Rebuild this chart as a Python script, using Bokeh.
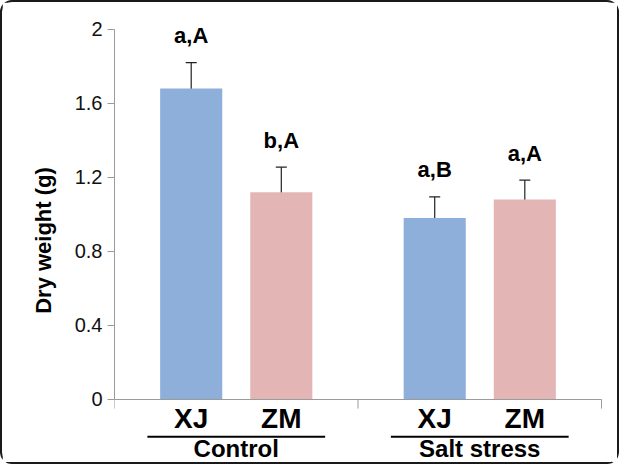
from bokeh.plotting import figure
from bokeh.models import Range1d, FixedTicker, ColumnDataSource, Whisker, TeeHead
from bokeh.core.properties import value
from bokeh.embed import file_html
from bokeh.resources import INLINE

# ---- data ----
groups = ["Control", "Salt stress"]
cultivars = ["XJ", "ZM"]
means = [1.68, 1.12, 0.98, 1.08]
errors = [0.14, 0.135, 0.115, 0.105]
letters = ["a,A", "b,A", "a,B", "a,A"]
y_ticks = [0.0, 0.4, 0.8, 1.2, 1.6, 2.0]
y_tick_labels = ["0", "0.4", "0.8", "1.2", "1.6", "2"]

# ---- styling / layout ----
colors = ["#8DAFDA", "#E4B5B5"]
FONT = value("Liberation Sans")
group_span = 2.0
offset = 0.37
bar_w = 0.51
label_gap = 0.145

xs, cols, names = [], [], []
for gi, g in enumerate(groups):
    c = gi * group_span + group_span / 2
    for ci, cv in enumerate(cultivars):
        xs.append(c + (ci - 0.5) * 2 * offset)
        cols.append(colors[ci])
        names.append(cv)

upper = [m + e for m, e in zip(means, errors)]
lower = [m - e for m, e in zip(means, errors)]
src = ColumnDataSource(dict(x=xs, top=means, upper=upper, lower=lower,
                            color=cols, letter=letters, name=names,
                            label_y=[u + label_gap for u in upper]))

p = figure(width=619, height=464, output_backend="svg", toolbar_location=None,
           x_range=Range1d(0, 4.082), y_range=Range1d(-0.362, 2.08),
           x_axis_location=None, min_border_left=112, min_border_right=10,
           min_border_top=12, min_border_bottom=0)
p.outline_line_color = None
p.grid.visible = False
p.styles = {"border": "2px solid #1a1a1a", "border-radius": "12px",
            "box-sizing": "border-box"}

ax = p.yaxis[0]
ax.bounds = (0, 2)
ax.ticker = FixedTicker(ticks=y_ticks)
ax.major_label_overrides = {t: l for t, l in zip(y_ticks, y_tick_labels)}
ax.minor_tick_line_color = None
ax.major_tick_in = 0
ax.major_tick_out = 7
ax.axis_line_color = "#9a9a9a"
ax.major_tick_line_color = "#9a9a9a"
ax.major_label_text_font = "Liberation Sans"
ax.major_label_text_font_size = "20px"
ax.major_label_text_color = "#111111"
ax.major_label_standoff = 5
ax.axis_label = "Dry weight (g)"
ax.axis_label_text_font = "Liberation Sans"
ax.axis_label_text_font_style = "bold"
ax.axis_label_text_font_size = "22px"
ax.axis_label_text_color = "#000000"
ax.axis_label_standoff = 16

# bars
p.vbar(x="x", top="top", width=bar_w, fill_color="color", line_color=None, source=src)

# error bars
p.add_layout(Whisker(base="x", upper="upper", lower="lower", source=src,
                     line_color="#222222", line_width=1.2,
                     upper_head=TeeHead(size=11, line_color="#222222", line_width=1.2),
                     lower_head=TeeHead(size=11, line_color="#222222", line_width=1.2)))

# significance letters
p.text(x="x", y="label_y", text="letter", source=src, text_align="center",
       text_baseline="middle", text_font=FONT, text_font_style="bold",
       text_font_size="22px", text_color="#000000")

# x axis line and group boundary ticks
n_groups = len(groups)
p.segment(x0=[0], y0=[0], x1=[n_groups * group_span], y1=[0], line_color="#9a9a9a", line_width=1)
bx = [i * group_span for i in range(n_groups + 1)]
p.segment(x0=bx, y0=[0] * len(bx), x1=bx, y1=[-0.049] * len(bx), line_color="#9a9a9a", line_width=1)

# cultivar labels
p.text(x="x", y=-0.02, text="name", source=src, text_align="center",
       text_baseline="top", text_font=FONT, text_font_style="bold",
       text_font_size="28px", text_color="#000000")

# group underlines and labels
gc = [i * group_span + group_span / 2 for i in range(n_groups)]
p.segment(x0=[c - 0.73 for c in gc], y0=[-0.2015] * n_groups,
          x1=[c + 0.73 for c in gc], y1=[-0.2015] * n_groups,
          line_color="#000000", line_width=2)
p.text(x=gc, y=[-0.19] * n_groups, text=groups, text_align="center",
       text_baseline="top", text_font=FONT, text_font_style="bold",
       text_font_size="24px", text_color="#000000")

open("out.html", "w").write(file_html(p, INLINE))
